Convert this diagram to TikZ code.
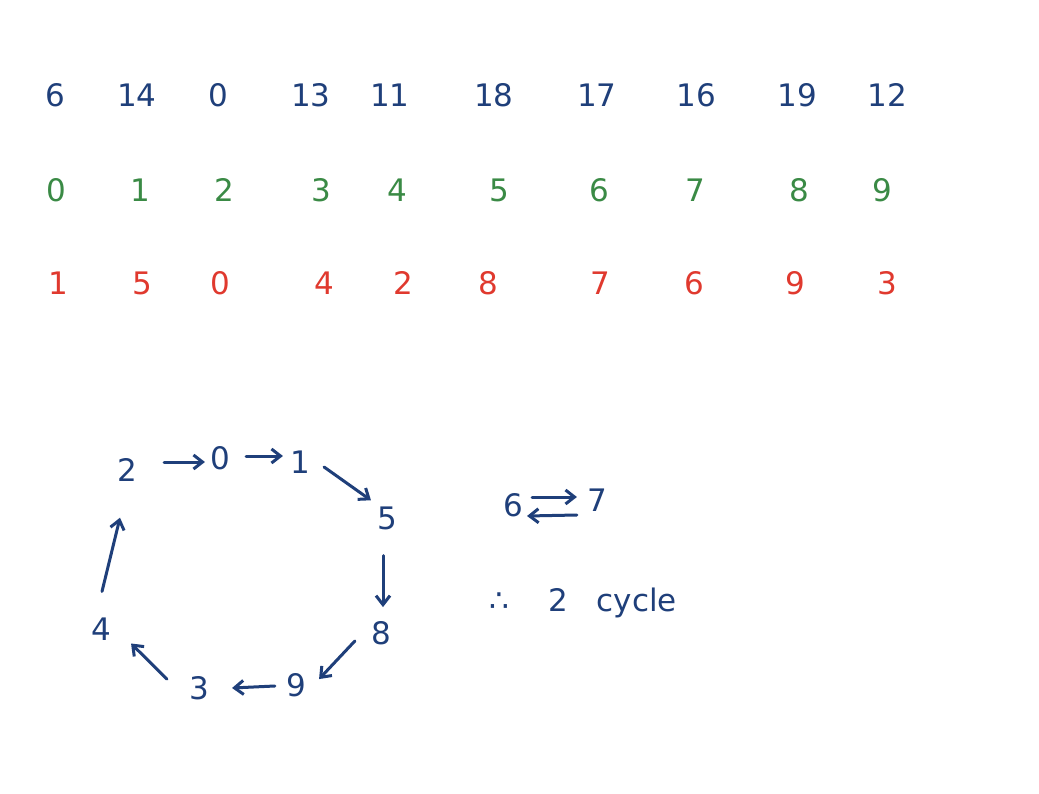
\documentclass[tikz,border=0pt]{standalone}
\usepackage{fontspec}
\setmainfont{DejaVu Sans}
\usetikzlibrary{arrows.meta}
\definecolor{inkblue}{HTML}{1F3F7A}
\definecolor{inkgreen}{HTML}{3A8A45}
\definecolor{inkred}{HTML}{E0392E}
\tikzset{
  num/.style={font=\fontsize{31}{35}\selectfont, inner sep=1pt},
  bnum/.style={num, text=inkblue},
  gnum/.style={num, text=inkgreen},
  rnum/.style={num, text=inkred},
  cyc/.style={num, text=inkblue},
  arr/.style={draw=inkblue, line width=3pt, line cap=round, -{Straight Barb[length=9pt,width=14pt]}}
}
\begin{document}
\begin{tikzpicture}[x=1pt,y=-1pt]
\useasboundingbox[fill=white] (0,0) rectangle (1039,794);
% blue row
\foreach \v/\x [count=\i] in {6/55,14/137,0/218,13/311,11/390,18/494,17/597,16/696,19/797,12/887}
  \node[bnum] (b\i) at (\x,95) {\v};
% green row
\foreach \v/\x [count=\i] in {0/56,1/140,2/224,3/321,4/397,5/499,6/599,7/695,8/799,9/882}
  \node[gnum] (g\i) at (\x,190) {\v};
% red row
\foreach \v/\x [count=\i] in {1/58,5/142,0/220,4/324,2/403,8/488,7/600,6/694,9/795,3/887}
  \node[rnum] (r\i) at (\x,283) {\v};
% cycle
\node[cyc] (c2) at (127,470) {2};
\node[cyc] (c0) at (220,458) {0};
\node[cyc] (c1) at (300,462) {1};
\node[cyc] (c5) at (387,518) {5};
\node[cyc] (c8) at (381,633) {8};
\node[cyc] (c9) at (296,685) {9};
\node[cyc] (c3) at (199,688) {3};
\node[cyc] (c4) at (101,629) {4};
\draw[arr] ([shift={(26,-8)}]c2.east) -- ([shift={(-4,4)}]c0.west);
\draw[arr] ([shift={(15,-2)}]c0.east) -- ([shift={(-6,-6)}]c1.west);
\draw[arr] ([shift={(13,5)}]c1.east) -- ([shift={(-5,-5)}]c5.north west);
\draw[arr] ([shift={(-4,25)}]c5.south) -- ([shift={(2,-13)}]c8.north);
\draw[arr] ([shift={(-15,-5)}]c8.south west) -- ([shift={(12,7)}]c9.north east);
\draw[arr] ([shift={(-10,1)}]c9.west) -- ([shift={(22,0)}]c3.east);
\draw[arr] ([shift={(-21,4)}]c3.north west) -- ([shift={(19,2)}]c4.south east);
\draw[arr] ([shift={(1,-25)}]c4.north) -- ([shift={(-7,35)}]c2.south);
% 6 <-> 7
\node[cyc] (s6) at (513,505) {6};
\node[cyc] (s7) at (597,500) {7};
\draw[arr] ([shift={(8,-8)}]s6.east) -- ([shift={(-9,-3)}]s7.west);
\draw[arr] ([shift={(-9,15)}]s7.west) -- ([shift={(3,11)}]s6.east);
% conclusion
\node[cyc, anchor=west] (concl) at (488,603) {∴\hspace{40pt}2\hspace{28pt}cycle};
\end{tikzpicture}
\end{document}
